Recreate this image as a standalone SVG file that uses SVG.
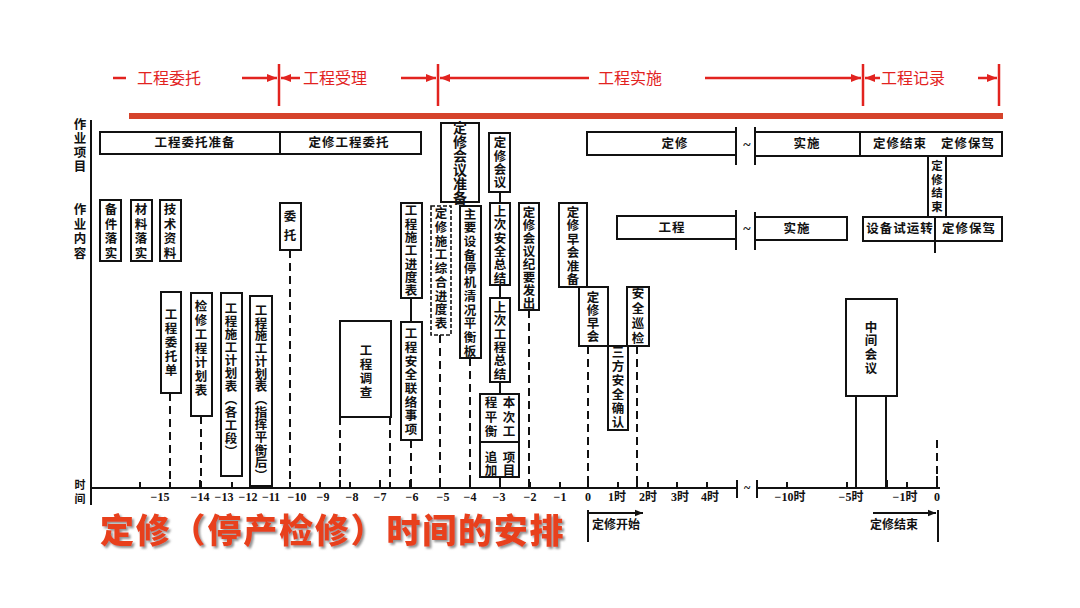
<svg xmlns="http://www.w3.org/2000/svg" width="1080" height="608" viewBox="0 0 1080 608">
<defs>
<style>
.hd{font-family:"Noto Sans CJK SC","Noto Sans",sans-serif;font-size:16px;fill:#e2231f}
.rl{stroke:#e2231f;stroke-width:2.5;fill:none}
.bx{fill:#fff;stroke:#111;stroke-width:2}
.db{fill:#fff;stroke:#111;stroke-width:1.6;stroke-dasharray:4 2}
.ln{stroke:#111;stroke-width:2;fill:none}
.ds{stroke:#111;stroke-width:2;fill:none;stroke-dasharray:8 5}
.v{writing-mode:vertical-rl;text-anchor:middle;font-family:"Noto Sans CJK SC",sans-serif;font-size:12.5px;font-weight:700;fill:#111}
.h{text-anchor:middle;font-family:"Noto Sans CJK SC",sans-serif;font-size:12.5px;font-weight:700;fill:#111;letter-spacing:1px}
.ax{text-anchor:middle;font-family:"Liberation Serif","Noto Sans CJK SC",serif;font-size:12px;font-weight:700;fill:#111}
.tt{font-family:"Noto Sans CJK SC",sans-serif;font-size:34px;font-weight:900}
</style>
<filter id="sh" x="-5%" y="-30%" width="110%" height="160%">
<feDropShadow dx="2" dy="2" stdDeviation="1" flood-color="#777" flood-opacity="0.8"/>
</filter>
<marker id="ar" viewBox="0 0 10 10" refX="10" refY="5" markerWidth="4" markerHeight="4" orient="auto-start-reverse" markerUnits="strokeWidth">
<path d="M0,1 L10,5 L0,9 Z" fill="#e2231f"/>
</marker>
<marker id="ab" viewBox="0 0 10 10" refX="10" refY="5" markerWidth="5" markerHeight="4" orient="auto" markerUnits="strokeWidth">
<path d="M0,1 L10,5 L0,9 Z" fill="#111"/>
</marker>
</defs>
<rect width="1080" height="608" fill="#fff"/>

<g id="header">
<line class="rl" x1="113" y1="78" x2="126" y2="78"/>
<text class="hd" x="137" y="84">工程委托</text>
<line class="rl" x1="242" y1="78" x2="277" y2="78" marker-end="url(#ar)"/>
<line class="rl" x1="279" y1="64" x2="279" y2="106"/>
<line class="rl" x1="300" y1="78" x2="281" y2="78" marker-end="url(#ar)"/>
<text class="hd" x="303" y="84">工程受理</text>
<line class="rl" x1="401" y1="78" x2="436" y2="78" marker-end="url(#ar)"/>
<line class="rl" x1="438" y1="64" x2="438" y2="106"/>
<line class="rl" x1="589" y1="78" x2="440" y2="78" marker-end="url(#ar)"/>
<text class="hd" x="598" y="84">工程实施</text>
<line class="rl" x1="705" y1="78" x2="861" y2="78" marker-end="url(#ar)"/>
<line class="rl" x1="863" y1="64" x2="863" y2="106"/>
<line class="rl" x1="880" y1="78" x2="865" y2="78" marker-end="url(#ar)"/>
<text class="hd" x="881" y="84">工程记录</text>
<line class="rl" x1="978" y1="78" x2="997" y2="78" marker-end="url(#ar)"/>
<line class="rl" x1="999" y1="64" x2="999" y2="106"/>
<rect x="129" y="113" width="874" height="6" fill="#d5432b"/>
</g>

<g id="axes">
<line class="ln" x1="91" y1="120" x2="91" y2="505"/>
<text class="v" x="80" y="146" style="letter-spacing:1.5px">作业项目</text>
<text class="v" x="80" y="232" style="letter-spacing:2px">作业内容</text>
<text class="v" x="80" y="493" style="font-size:11px;letter-spacing:3px">时间</text>
<polyline class="ln" points="91,488 737,488"/>
<polyline class="ln" points="757,488 940,488"/>
<line class="ln" x1="737" y1="480" x2="737" y2="498"/>
<line class="ln" x1="757" y1="480" x2="757" y2="498"/>
<text class="ax" x="747" y="492">~</text>
<path class="ln" d="M140,482V488M170,482V488M200,480V488M232,482V488M255,482V488M290,482V488M320,482V488M340,480V488M350,482V488M380,480V488M390,482V488M410,480V488M440,480V488M470,482V488M500,482V488M530,482V488M560,482V488M588,476V488M618,482V488M637,480V488M648,482V488M677,482V488M707,482V488M787,482V488M847,482V488M887,480V488M907,482V488M937,476V488"/>
<text class="ax" x="160" y="501">−15</text>
<text class="ax" x="200" y="501">−14</text>
<text class="ax" x="224" y="501">−13</text>
<text class="ax" x="248" y="501">−12</text>
<text class="ax" x="271" y="501">−11</text>
<text class="ax" x="297" y="501">−10</text>
<text class="ax" x="323" y="501">−9</text>
<text class="ax" x="352" y="501">−8</text>
<text class="ax" x="380" y="501">−7</text>
<text class="ax" x="412" y="501">−6</text>
<text class="ax" x="443" y="501">−5</text>
<text class="ax" x="470" y="501">−4</text>
<text class="ax" x="499" y="501">−3</text>
<text class="ax" x="530" y="501">−2</text>
<text class="ax" x="560" y="501">−1</text>
<text class="ax" x="588" y="501">0</text>
<text class="ax" x="617" y="501">1时</text>
<text class="ax" x="648" y="501">2时</text>
<text class="ax" x="680" y="501">3时</text>
<text class="ax" x="710" y="501">4时</text>
<text class="ax" x="790" y="501">−10时</text>
<text class="ax" x="851" y="501">−5时</text>
<text class="ax" x="905" y="501">−1时</text>
<text class="ax" x="937" y="501">0</text>
</g>

<g id="connectors">
<line class="ds" x1="170" y1="393" x2="170" y2="488"/>
<line class="ds" x1="201" y1="416" x2="201" y2="488"/>
<line class="ds" x1="290" y1="250" x2="290" y2="488"/>
<line class="ds" x1="340" y1="417" x2="340" y2="488"/>
<line class="ds" x1="390" y1="417" x2="390" y2="488"/>
<line class="ds" x1="411" y1="440" x2="411" y2="488"/>
<line class="ds" x1="440" y1="335" x2="440" y2="488"/>
<line class="ds" x1="470" y1="358" x2="470" y2="488"/>
<line class="ds" x1="529" y1="310" x2="529" y2="488"/>
<line class="ds" x1="588" y1="346" x2="588" y2="488"/>
<line class="ds" x1="637" y1="346" x2="637" y2="488"/>
<line class="ds" x1="937" y1="440" x2="937" y2="488"/>
<line class="ln" x1="411" y1="298" x2="411" y2="322"/>
<line class="ln" x1="500" y1="192" x2="500" y2="203"/>
<line class="ln" x1="500" y1="285" x2="500" y2="298"/>
<line class="ln" x1="500" y1="382" x2="500" y2="394"/>
<line class="ln" x1="500" y1="477" x2="500" y2="488"/>
<line class="ln" x1="856" y1="396" x2="856" y2="488"/>
<line class="ln" x1="886" y1="396" x2="886" y2="488"/>
<line class="ln" x1="935" y1="132" x2="935" y2="253"/>
<line class="ln" x1="736" y1="127" x2="736" y2="165"/>
<line class="ln" x1="755" y1="127" x2="755" y2="165"/>
<line class="ln" x1="736" y1="210" x2="736" y2="250"/>
<line class="ln" x1="755" y1="212" x2="755" y2="250"/>
<text class="ax" x="747" y="150" style="font-size:14px">~</text>
<text class="ax" x="747" y="234" style="font-size:14px">~</text>
</g>

<g id="n-row1-left">
<rect class="bx" x="100" y="132" width="180" height="22"/>
<text class="h" x="195" y="147">工程委托准备</text>
<rect class="bx" x="280" y="132" width="141" height="22"/>
<text class="h" x="349" y="147">定修工程委托</text>
</g>
<g id="n-dingxiu">
<rect class="bx" x="587" y="132" width="149" height="23"/>
<text class="h" x="675" y="148">定修</text>
</g>
<g id="n-row1-right">
<rect class="bx" x="755" y="132" width="247" height="24"/>
<line class="ln" x1="860" y1="132" x2="860" y2="156"/>
<text class="h" x="807" y="148">实施</text>
<text class="h" x="900" y="148">定修结束</text>
<text class="h" x="968" y="148">定修保驾</text>
</g>
<g id="n-jieshu-v">
<rect class="bx" x="928" y="156" width="18" height="61"/>
<text class="v" x="937" y="187" style="font-size:11.5px;letter-spacing:2px">定修结束</text>
</g>
<g id="n-gongcheng">
<rect class="bx" x="617" y="216" width="119" height="23"/>
<text class="h" x="672" y="232">工程</text>
</g>
<g id="n-shishi2">
<rect class="bx" x="755" y="217" width="92" height="23"/>
<text class="h" x="797" y="233">实施</text>
</g>
<g id="n-row2-right">
<rect class="bx" x="863" y="217" width="139" height="24"/>
<line class="ln" x1="935" y1="217" x2="935" y2="253"/>
<text class="h" x="900" y="233">设备试运转</text>
<text class="h" x="969" y="233">定修保驾</text>
</g>

<g id="n-beijian"><rect class="bx" x="100" y="200" width="21" height="61"/><text class="v" x="111" y="232" style="letter-spacing:2px">备件落实</text></g>
<g id="n-cailiao"><rect class="bx" x="131" y="200" width="21" height="61"/><text class="v" x="141" y="232" style="letter-spacing:2px">材料落实</text></g>
<g id="n-jishu"><rect class="bx" x="160" y="200" width="21" height="61"/><text class="v" x="170" y="232" style="letter-spacing:2px">技术资料</text></g>
<g id="n-weituo"><rect class="bx" x="280" y="203" width="21" height="47"/><text class="v" x="290" y="229" style="letter-spacing:7px">委托</text></g>
<g id="n-jindubiao"><rect class="bx" x="401" y="203" width="21" height="95"/><text class="v" x="411" y="251" style="letter-spacing:0.8px">工程施工进度表</text></g>
<g id="n-anquan-lianluo"><rect class="bx" x="401" y="322" width="21" height="118"/><text class="v" x="411" y="382" style="letter-spacing:1.2px">工程安全联络事项</text></g>
<g id="n-zonghe"><rect class="db" x="431" y="206" width="20" height="129"/><text class="v" x="441" y="269" style="letter-spacing:1.2px">定修施工综合进度表</text></g>
<g id="n-huiyi-zhunbei"><rect class="bx" x="441" y="123" width="38" height="79"/><text class="v" x="460" y="163" style="font-size:14px;letter-spacing:0px">定修会议准备</text></g>
<g id="n-pinghengban"><rect class="bx" x="460" y="206" width="21" height="152"/><text class="v" x="470" y="283" style="letter-spacing:1.2px">主要设备停机清况平衡板</text></g>
<g id="n-huiyi"><rect class="bx" x="489" y="133" width="21" height="59"/><text class="v" x="500" y="163" style="letter-spacing:0.8px">定修会议</text></g>
<g id="n-anquan-zongjie"><rect class="bx" x="490" y="203" width="20" height="82"/><text class="v" x="500" y="245" style="letter-spacing:0.8px">上次安全总结</text></g>
<g id="n-gongcheng-zongjie"><rect class="bx" x="490" y="298" width="20" height="84"/><text class="v" x="500" y="341" style="letter-spacing:0.8px">上次工程总结</text></g>
<g id="n-benci">
<rect class="bx" x="480" y="394" width="39" height="83"/>
<line class="ln" x1="480" y1="442" x2="519" y2="442"/>
<text class="v" x="509" y="418" style="letter-spacing:2px">本次工</text>
<text class="v" x="491" y="418" style="letter-spacing:2px">程平衡</text>
<text class="v" x="509" y="464" style="letter-spacing:1px">项目</text>
<text class="v" x="491" y="464" style="letter-spacing:1px">追加</text>
</g>
<g id="n-jiyao"><rect class="bx" x="519" y="203" width="20" height="107"/><text class="v" x="529" y="258" style="letter-spacing:0.6px">定修会议纪要发出</text></g>
<g id="n-zaohui-zhunbei"><rect class="bx" x="559" y="203" width="28" height="84"/><text class="v" x="573" y="246" style="letter-spacing:1px">定修早会准备</text></g>
<g id="n-zaohui"><rect class="bx" x="579" y="287" width="29" height="59"/><text class="v" x="593" y="317" style="letter-spacing:0.5px">定修早会</text></g>
<g id="n-xunjian"><rect class="bx" x="627" y="287" width="22" height="59"/><text class="v" x="638" y="317" style="letter-spacing:2.5px">安全巡检</text></g>
<g id="n-sanfang"><rect class="bx" x="608" y="346" width="20" height="84"/><text class="v" x="618" y="388" style="letter-spacing:1.6px">三方安全确认</text></g>

<g id="n-weituodan"><rect class="bx" x="161" y="292" width="20" height="101"/><text class="v" x="171" y="343" style="letter-spacing:1.7px">工程委托单</text></g>
<g id="n-jianxiu"><rect class="bx" x="191" y="293" width="21" height="123"/><text class="v" x="201" y="349" style="letter-spacing:1.4px">检修工程计划表</text></g>
<g id="n-gegongduan"><rect class="bx" x="221" y="293" width="21" height="183"/><text class="v" x="231" y="380" style="letter-spacing:0.5px">工程施工计划表（各工段）</text></g>
<g id="n-zhihui"><rect class="bx" x="250" y="296" width="22" height="190"/><text class="v" x="261" y="393" style="letter-spacing:0.2px">工程施工计划表（指挥平衡后）</text></g>
<g id="n-diaocha"><rect class="bx" x="340" y="321" width="51" height="96"/><text class="v" x="366" y="372" style="letter-spacing:1.5px">工程调查</text></g>
<g id="n-zhongjian"><rect class="bx" x="846" y="299" width="51" height="97"/><text class="v" x="871" y="348" style="letter-spacing:1.2px">中间会议</text></g>

<g id="n-start">
<line class="ln" x1="588" y1="510" x2="588" y2="542"/>
<line class="ln" x1="589" y1="513" x2="643" y2="513" marker-end="url(#ab)"/>
<text x="592" y="529" style="font-family:'Noto Sans CJK SC',sans-serif;font-size:12px;font-weight:700;fill:#111">定修开始</text>
</g>
<g id="n-end">
<line class="ln" x1="938" y1="510" x2="938" y2="542"/>
<line class="ln" x1="873" y1="513" x2="936" y2="513" marker-end="url(#ab)"/>
<text x="870" y="529" style="font-family:'Noto Sans CJK SC',sans-serif;font-size:12px;font-weight:700;fill:#111">定修结束</text>
</g>

<g id="title">
<text class="tt" x="100" y="543" fill="#e8401c" filter="url(#sh)" style="letter-spacing:1.8px">定修（停产检修）时间的安排</text>
</g>
</svg>
